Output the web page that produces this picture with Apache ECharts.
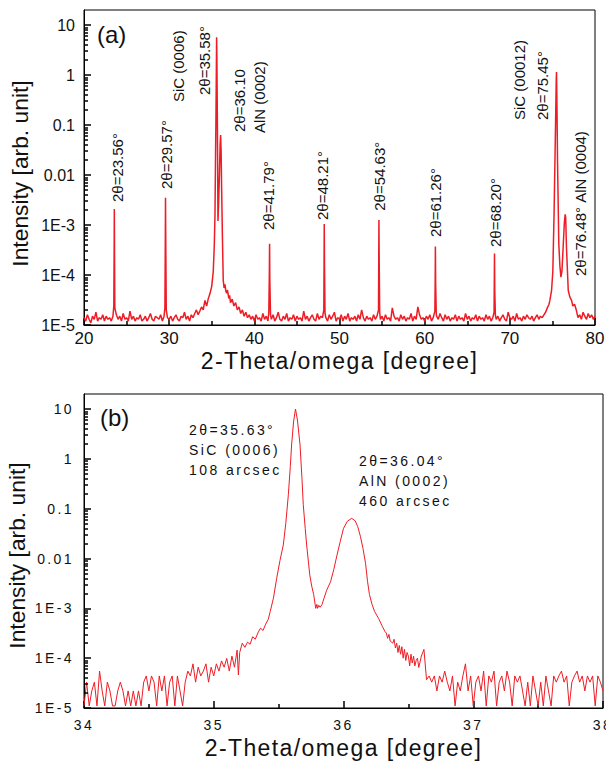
<!DOCTYPE html>
<html>
<head>
<meta charset="utf-8">
<script src="https://cdn.jsdelivr.net/npm/echarts@6/dist/echarts.min.js"></script>
<style>html,body{margin:0;padding:0;background:#fff}#chart{width:606px;height:764px}</style>
</head>
<body>
<div id="chart"></div>
<script>
// ---------- DATA ----------
// (a) wide 2-Theta/omega scan, 20-80 degree: [2theta, intensity]
const topScan = [
[20.0,1.4e-5],[20.2,1.2e-5],[20.4,1.6e-5],[20.6,1.3e-5],[20.8,1.1e-5],[21.0,1.5e-5],[21.2,1.3e-5],[21.4,1.8e-5],[21.6,1.2e-5],[21.8,1.4e-5],[22.0,1.3e-5],[22.2,1.6e-5],[22.4,1.2e-5],[22.6,1.5e-5],[22.8,1.3e-5],[23.0,1.4e-5],[23.2,1.2e-5],
[23.4,1.5e-5],[23.5,2.4e-5],[23.54,3e-4],[23.56,2.1e-3],[23.58,4e-4],[23.62,2.2e-5],[23.8,1.6e-5],
[24.0,1.3e-5],[24.2,1.5e-5],[24.4,1.2e-5],[24.6,1.7e-5],[24.8,1.3e-5],[25.0,1.4e-5],[25.2,1.2e-5],[25.4,1.9e-5],[25.6,1.3e-5],[25.8,1.5e-5],[26.0,1.2e-5],[26.2,1.4e-5],[26.4,1.3e-5],[26.6,1.6e-5],[26.8,1.2e-5],[27.0,1.3e-5],[27.2,1.5e-5],[27.4,1.2e-5],[27.6,1.4e-5],[27.8,1.7e-5],[28.0,1.3e-5],[28.2,1.2e-5],[28.4,1.5e-5],[28.6,1.4e-5],[28.8,1.3e-5],[29.0,1.6e-5],[29.2,1.2e-5],
[29.4,1.5e-5],[29.5,2.2e-5],[29.55,6e-4],[29.57,3.5e-3],[29.6,5e-4],[29.66,2e-5],[29.8,1.4e-5],
[30.0,1.3e-5],[30.2,1.5e-5],[30.4,1.2e-5],[30.6,1.4e-5],[30.8,1.6e-5],[31.0,1.3e-5],[31.2,1.2e-5],[31.4,1.5e-5],[31.6,1.4e-5],[31.8,1.8e-5],[32.0,1.3e-5],[32.2,1.5e-5],[32.4,1.2e-5],[32.6,1.6e-5],[32.8,1.4e-5],[33.0,1.7e-5],[33.2,2.0e-5],[33.4,1.6e-5],[33.6,1.9e-5],[33.8,2.3e-5],[34.0,2.0e-5],[34.2,3.1e-5],[34.4,2.4e-5],[34.6,3.4e-5],[34.8,4.3e-5],[35.0,6e-5],
[35.18,1.2e-4],[35.3,4e-4],[35.38,1.6e-3],[35.45,0.03],[35.49,0.117],[35.54,1.2],[35.57,5.7],[35.6,2.5],[35.65,0.2],[35.7,0.01],[35.73,1.2e-3],[35.8,2.5e-3],[35.9,0.01],[35.98,0.04],[36.04,0.063],[36.1,0.03],[36.16,5.5e-3],[36.25,6e-4],[36.35,7.8e-5],
[36.45,5.5e-5],[36.55,6.5e-5],[36.65,4.8e-5],[36.75,4.3e-5],[36.85,5e-5],[37.0,3.4e-5],[37.1,3.9e-5],[37.2,2.8e-5],[37.4,3.3e-5],[37.6,2.4e-5],[37.8,2.8e-5],[38.0,2.0e-5],[38.2,2.3e-5],[38.4,1.7e-5],[38.6,2.0e-5],[38.8,1.5e-5],[39.0,1.8e-5],[39.2,1.4e-5],[39.4,1.6e-5],
[39.6,1.3e-5],[39.8,1.5e-5],[40.0,1.2e-5],[40.2,1.6e-5],[40.4,1.3e-5],[40.6,1.4e-5],[40.8,1.2e-5],[41.0,1.7e-5],[41.2,1.3e-5],[41.4,1.5e-5],[41.6,1.2e-5],
[41.7,1.8e-5],[41.76,1e-4],[41.79,4.2e-4],[41.82,8e-5],[41.9,1.6e-5],
[42.0,1.3e-5],[42.2,1.6e-5],[42.4,1.2e-5],[42.6,1.4e-5],[42.8,1.8e-5],[43.0,1.3e-5],[43.2,1.2e-5],[43.4,1.5e-5],[43.6,1.3e-5],[43.8,1.7e-5],[44.0,1.2e-5],[44.2,1.4e-5],[44.4,1.3e-5],[44.6,1.6e-5],[44.8,1.2e-5],[45.0,1.5e-5],[45.2,1.3e-5],[45.4,1.4e-5],[45.6,1.2e-5],[45.8,1.9e-5],[46.0,1.3e-5],[46.2,1.5e-5],[46.4,1.2e-5],[46.6,1.4e-5],[46.8,1.6e-5],[47.0,1.3e-5],[47.2,1.2e-5],[47.4,1.7e-5],[47.6,1.3e-5],[47.8,1.5e-5],[48.0,1.4e-5],
[48.16,2e-5],[48.19,2e-4],[48.21,1.05e-3],[48.24,1.5e-4],[48.3,1.7e-5],
[48.4,1.4e-5],[48.6,1.2e-5],[48.8,1.6e-5],[49.0,1.3e-5],[49.2,1.5e-5],[49.4,1.8e-5],[49.6,1.2e-5],[49.8,1.4e-5],[50.0,1.3e-5],[50.2,1.6e-5],[50.4,1.2e-5],[50.6,1.5e-5],[50.8,1.3e-5],[51.0,1.7e-5],[51.2,1.2e-5],[51.4,1.4e-5],[51.6,1.3e-5],[51.8,1.5e-5],[52.0,1.2e-5],[52.2,1.6e-5],[52.4,1.3e-5],[52.6,2.0e-5],[52.8,1.4e-5],[53.0,1.2e-5],[53.2,1.5e-5],[53.4,1.3e-5],[53.6,1.4e-5],[53.8,1.2e-5],[54.0,1.6e-5],[54.2,1.3e-5],[54.4,1.5e-5],
[54.58,2e-5],[54.61,2.5e-4],[54.63,1.26e-3],[54.66,2e-4],[54.72,1.8e-5],
[54.8,1.3e-5],[55.0,1.5e-5],[55.2,1.2e-5],[55.4,1.6e-5],[55.6,1.3e-5],[55.8,1.4e-5],[56.0,1.2e-5],[56.2,2.2e-5],[56.4,1.5e-5],[56.6,1.3e-5],[56.8,1.4e-5],[57.0,1.2e-5],[57.2,1.6e-5],[57.4,1.3e-5],[57.6,1.5e-5],[57.8,1.2e-5],[58.0,1.4e-5],[58.2,1.3e-5],[58.4,1.7e-5],[58.6,1.2e-5],[58.8,1.5e-5],[59.0,1.3e-5],[59.2,2.3e-5],[59.4,1.6e-5],[59.6,1.3e-5],[59.8,1.4e-5],[60.0,1.2e-5],[60.2,1.5e-5],[60.4,1.3e-5],[60.6,1.6e-5],[60.8,1.2e-5],[61.0,1.4e-5],
[61.2,1.9e-5],[61.24,1e-4],[61.26,3.7e-4],[61.29,7e-5],[61.36,1.7e-5],
[61.4,1.5e-5],[61.6,1.3e-5],[61.8,1.7e-5],[62.0,1.4e-5],[62.2,1.2e-5],[62.4,1.6e-5],[62.6,1.3e-5],[62.8,1.5e-5],[63.0,1.2e-5],[63.2,1.4e-5],[63.4,1.3e-5],[63.6,1.6e-5],[63.8,1.2e-5],[64.0,1.5e-5],[64.2,1.3e-5],[64.4,1.4e-5],[64.6,1.2e-5],[64.8,1.7e-5],[65.0,1.3e-5],[65.2,1.5e-5],[65.4,1.2e-5],[65.6,1.4e-5],[65.8,1.3e-5],[66.0,1.6e-5],[66.2,1.2e-5],[66.4,1.5e-5],[66.6,1.3e-5],[66.8,1.4e-5],[67.0,1.2e-5],[67.2,1.6e-5],[67.4,1.3e-5],[67.6,1.5e-5],[67.8,1.2e-5],[68.0,1.4e-5],
[68.15,1.8e-5],[68.18,9e-5],[68.2,2.7e-4],[68.23,5e-5],[68.3,1.6e-5],
[68.4,1.3e-5],[68.6,1.5e-5],[68.8,1.2e-5],[69.0,1.4e-5],[69.2,1.6e-5],[69.4,1.3e-5],[69.6,1.2e-5],[69.8,1.8e-5],[70.0,1.4e-5],[70.2,1.3e-5],[70.4,1.5e-5],[70.6,1.2e-5],[70.8,1.7e-5],[71.0,1.3e-5],[71.2,1.4e-5],[71.4,1.2e-5],[71.6,1.5e-5],[71.8,1.3e-5],[72.0,1.6e-5],[72.2,1.4e-5],[72.4,1.3e-5],[72.6,1.5e-5],[72.8,1.2e-5],[73.0,1.4e-5],[73.2,1.6e-5],[73.4,1.3e-5],[73.6,1.5e-5],[73.8,1.4e-5],[74.0,1.6e-5],
[74.2,1.8e-5],[74.4,2.2e-5],[74.6,2.6e-5],[74.7,3.1e-5],[74.9,4.9e-5],[75.05,1.2e-4],[75.2,1.9e-3],[75.36,0.086],[75.45,0.8],[75.48,1.15],[75.52,0.4],[75.6,0.019],[75.75,4.2e-4],[75.88,1.5e-4],[76.0,9.1e-5],[76.12,1.2e-4],[76.26,3.6e-4],[76.4,1.1e-3],[76.5,1.64e-3],[76.56,1.4e-3],[76.65,3.6e-4],[76.86,4.9e-5],[77.05,3.6e-5],[77.25,3.1e-5],[77.4,2.4e-5],[77.6,2.6e-5],[77.8,2.0e-5],
[78.0,1.4e-5],[78.2,1.6e-5],[78.4,1.3e-5],[78.6,1.8e-5],[78.8,1.5e-5],[79.0,1.3e-5],[79.2,1.7e-5],[79.4,1.4e-5],[79.6,1.6e-5],[79.8,1.3e-5],[80.0,1.5e-5]
];

// (b) fine scan, 34-38 degree: [2theta, intensity]
const bottomScan = [
[34.00,1.1e-5],[34.02,3.3e-5],[34.04,1.1e-5],[34.06,2.2e-5],[34.08,3.3e-5],[34.10,1.1e-5],[34.12,5.5e-5],[34.14,2.2e-5],[34.16,1.1e-5],[34.18,3.3e-5],[34.20,2.2e-5],[34.22,1.1e-5],[34.24,1.1e-5],[34.26,2.2e-5],[34.28,3.3e-5],[34.30,2.2e-5],[34.32,1.1e-5],[34.34,2.2e-5],[34.36,1.1e-5],[34.38,2.2e-5],[34.40,1.1e-5],[34.42,2.2e-5],[34.44,1.1e-5],[34.46,3.3e-5],[34.48,4.4e-5],[34.50,2.2e-5],[34.52,4.4e-5],[34.54,3.3e-5],[34.56,1.1e-5],[34.58,4.4e-5],[34.60,2.2e-5],[34.62,4.4e-5],[34.64,1.1e-5],[34.66,3.3e-5],[34.68,4.4e-5],[34.70,1.1e-5],[34.72,4.4e-5],[34.74,2.2e-5],[34.76,1.1e-5],[34.78,3.3e-5],[34.80,5.5e-5],
[34.82,4.4e-5],[34.84,7.7e-5],[34.86,3.3e-5],[34.88,6.6e-5],[34.90,4.4e-5],[34.92,5.5e-5],[34.94,7.7e-5],[34.96,3.3e-5],[34.98,6.6e-5],[35.00,4.4e-5],[35.02,7.7e-5],[35.04,5.5e-5],[35.06,8.8e-5],[35.08,6.6e-5],[35.10,9.9e-5],[35.12,5.5e-5],[35.14,1.1e-4],[35.16,6.6e-5],[35.18,1.45e-4],[35.19,4.6e-5],
[35.20,1.3e-4],[35.22,2e-4],[35.24,1.65e-4],[35.26,2.1e-4],[35.28,1.9e-4],[35.30,2.7e-4],[35.32,2.4e-4],[35.34,3.2e-4],[35.36,4e-4],[35.38,3.6e-4],[35.40,4.8e-4],[35.42,6e-4],[35.435,8.6e-4],[35.46,1.6e-3],[35.485,4e-3],[35.51,9e-3],[35.536,0.0187],[35.555,0.05],[35.575,0.19],[35.59,0.7],[35.6,1.9],[35.615,5.5],[35.63,10],[35.645,6],[35.665,1.9],[35.68,0.4],[35.69,0.12],[35.705,0.04],[35.716,0.0187],[35.74,4.7e-3],[35.755,2.8e-3],[35.77,1.9e-3],[35.786,1e-3],[35.795,1.2e-3],[35.80,1.0e-3],[35.81,1.15e-3],[35.82,1.05e-3],[35.835,1.2e-3],[35.85,1.6e-3],[35.87,2.3e-3],[35.9,3.4e-3],[35.925,6e-3],[35.95,0.0117],[35.975,0.022],[36.0,0.0403],[36.03,0.056],[36.063,0.064],[36.09,0.057],[36.11,0.0434],[36.13,0.028],[36.15,0.016],[36.17,8e-3],[36.185,3.5e-3],[36.2,1.9e-3],[36.22,1.2e-3],[36.24,8.6e-4],[36.27,6.3e-4],[36.3,4.3e-4],[36.32,3.4e-4],[36.33,3.2e-4],[36.34,2.5e-4],[36.35,3e-4],[36.36,2.2e-4],[36.38,2e-4],[36.39,2.4e-4],[36.40,1.6e-4],[36.41,2e-4],[36.42,1.3e-4],[36.43,1.8e-4],[36.44,1.2e-4],[36.45,1.7e-4],[36.46,1e-4],[36.47,1.5e-4],[36.48,9e-5],[36.49,1.3e-4],[36.50,1.1e-4],[36.51,7e-5],[36.52,1.2e-4],[36.53,8e-5],[36.54,1.1e-4],[36.55,7e-5],[36.56,9e-5],[36.57,1e-4],[36.58,6.5e-5],[36.60,1.1e-4],[36.62,1.5e-4],[36.64,3.7e-5],
[36.66,4.4e-5],[36.68,3.3e-5],[36.70,4.4e-5],[36.72,2.2e-5],[36.74,4.4e-5],[36.76,3.3e-5],[36.78,5.5e-5],[36.80,3.3e-5],[36.82,2.2e-5],[36.84,4.4e-5],[36.86,1.1e-5],[36.88,3.3e-5],[36.90,2.2e-5],[36.92,4.4e-5],[36.94,7.7e-5],[36.96,2.2e-5],[36.98,4.4e-5],[37.00,1.1e-5],[37.02,3.3e-5],[37.04,4.4e-5],[37.06,2.2e-5],[37.08,5.5e-5],[37.10,1.1e-5],[37.12,4.4e-5],[37.14,3.3e-5],[37.16,5.5e-5],[37.18,1.1e-5],[37.20,3.3e-5],[37.22,4.4e-5],[37.24,2.2e-5],[37.26,5.5e-5],[37.28,3.3e-5],[37.30,1.1e-5],[37.32,4.4e-5],[37.34,3.3e-5],[37.36,4.4e-5],[37.38,2.2e-5],[37.40,1.1e-5],[37.42,3.3e-5],[37.44,1.1e-5],[37.46,4.4e-5],[37.48,2.2e-5],[37.50,1.1e-5],[37.52,3.3e-5],[37.54,1.1e-5],[37.56,4.4e-5],[37.58,2.2e-5],[37.60,1.1e-5],[37.62,4.4e-5],[37.64,3.3e-5],[37.66,4.4e-5],[37.68,5.5e-5],[37.70,3.3e-5],[37.72,4.4e-5],[37.74,1.1e-5],[37.76,3.3e-5],[37.78,4.4e-5],[37.80,5.5e-5],[37.82,3.3e-5],[37.84,4.4e-5],[37.86,2.2e-5],[37.88,4.4e-5],[37.90,3.3e-5],[37.92,4.4e-5],[37.94,1.1e-5],[37.96,4.4e-5],[37.98,3.3e-5],[38.00,2.2e-5]
];

// tick labels
const yTickLabels = ['1E-5', '1E-4', '1E-3', '0.01', '0.1', '1', '10'];
const yDecades = [1e-5, 1e-4, 1e-3, 0.01, 0.1, 1, 10];
const yMinorMultipliers = [2, 3, 4, 5, 6, 7, 8, 9];

// peak annotations of (a): text, anchor (start of the rotated text) in data coords
const topLabelText = ['2θ=23.56°', '2θ=29.57°', 'SiC (0006)', '2θ=35.58°', '2θ=36.10', 'AlN (0002)', '2θ=41.79°', '2θ=48.21°', '2θ=54.63°', '2θ=61.26°', '2θ=68.20°', 'SiC (00012)', '2θ=75.45°', '2θ=76.48° AlN (0004)'];
const topLabelX = [23.93, 29.63, 31.15, 34.15, 38.2, 40.6, 41.66, 48.06, 54.75, 61.33, 68.31, 71.13, 73.89, 78.24];
const topLabelY = [2.88e-3, 5.25e-3, 0.288, 0.398, 0.0724, 0.0692, 7.94e-4, 1.26e-3, 1.93e-3, 5.75e-4, 3.63e-4, 0.126, 0.126, 9.55e-5];

// peak annotations of (b)
const bottomLabelText = ['2θ=35.63°\nSiC (0006)\n108 arcsec', '2θ=36.04°\nAlN (0002)\n460 arcsec'];
const bottomLabelX = [34.81, 36.12];
const bottomLabelY = [5.9, 1.44];

// ---------- STYLE HELPERS ----------
const FONT = '"Liberation Sans", Arial, sans-serif';
const AXIS = '#000';
const TEXT = '#111';
const RED = '#ee1c25';
// letter spacing (px) applied to SVG text of a given font size
const LETTER_SPACING = { '14px': 2.4, '23px': 1.4 };

const yMinorTicks = [];
yDecades.forEach(d => yMinorMultipliers.forEach(m => { if (m * d < 20) yMinorTicks.push(m * d); }));

function xAxisCfg(gi, min, max, interval, labelSize, margin, nameGap) {
  return {
    gridIndex: gi, type: 'value', min: min, max: max, interval: interval,
    name: '2-Theta/omega [degree]', nameLocation: 'middle', nameGap: nameGap, nameMoveOverlap: false,
    nameTextStyle: { fontSize: 23, fontFamily: FONT, color: TEXT },
    axisLine: { show: true, lineStyle: { color: AXIS, width: 1 } },
    axisTick: { show: true, inside: true, length: 7, lineStyle: { color: AXIS, width: 1.5 } },
    minorTick: { show: true, splitNumber: 2, length: 4, lineStyle: { color: AXIS, width: 1.5 } },
    splitLine: { show: false },
    axisLabel: { fontSize: labelSize, fontFamily: FONT, color: TEXT, margin: margin }
  };
}
function yAxisCfg(gi, labelSize, margin, nameGap, pad) {
  return {
    gridIndex: gi, type: 'log', min: 1e-5, max: 20, splitNumber: 7,
    name: 'Intensity [arb. unit]', nameLocation: 'middle', nameGap: nameGap, nameMoveOverlap: false,
    nameTextStyle: { fontSize: 22.8, fontFamily: FONT, color: TEXT, padding: [0, pad, 0, 0] },
    axisLine: { show: true, lineStyle: { color: AXIS, width: 1 } },
    axisTick: { show: true, inside: true, length: 7, lineStyle: { color: AXIS, width: 1.5 } },
    splitLine: { show: false },
    axisLabel: {
      fontSize: labelSize, fontFamily: FONT, color: TEXT, margin: margin, showMaxLabel: false,
      formatter: v => { const i = Math.round(Math.log10(v)) + 5; return yTickLabels[i] || ''; }
    }
  };
}
// logarithmic minor ticks on the y axis, drawn as short marklines starting at the axis
function minorTickMarks(xMin, tickLen) {
  return {
    silent: true, symbol: ['none', 'none'],
    label: { show: false },
    lineStyle: { color: AXIS, width: 1.5, type: 'solid' },
    data: yMinorTicks.map(v => [{ coord: [xMin, v] }, { coord: [xMin + tickLen, v] }])
  };
}

const chart = echarts.init(document.getElementById('chart'), null, { renderer: 'svg' });
function applyLetterSpacing() {
  document.querySelectorAll('#chart svg text').forEach(el => {
    const fs = window.getComputedStyle(el).fontSize;
    const sp = LETTER_SPACING[fs];
    if (sp) el.setAttribute('letter-spacing', sp);
  });
}
chart.on('finished', applyLetterSpacing);
chart.setOption({
  animation: false,
  backgroundColor: '#fff',
  grid: [
    { left: 84, right: 11, top: 10, height: 315, show: true, borderColor: AXIS, borderWidth: 1, backgroundColor: 'transparent', outerBoundsMode: 'none' },
    { left: 84, right: 3, top: 394, height: 314, show: true, borderColor: AXIS, borderWidth: 1, backgroundColor: 'transparent', outerBoundsMode: 'none' }
  ],
  xAxis: [xAxisCfg(0, 20, 80, 10, 17, 5, 24), xAxisCfg(1, 34, 38, 1, 14, 10, 28)],
  yAxis: [yAxisCfg(0, 16, 9, 53, 12), yAxisCfg(1, 14, 10, 56, 9)],
  graphic: [
    { type: 'text', left: 97, top: 22, style: { text: '(a)', fontSize: 24, fontFamily: FONT, fill: TEXT } },
    { type: 'text', left: 100, top: 405, style: { text: '(b)', fontSize: 24, fontFamily: FONT, fill: TEXT } }
  ],
  series: [
    { type: 'line', xAxisIndex: 0, yAxisIndex: 0, data: topScan, symbol: 'none', sampling: 'none',
      lineStyle: { color: RED, width: 1.5 }, z: 2, markLine: minorTickMarks(20, 0.47) },
    { type: 'line', xAxisIndex: 1, yAxisIndex: 1, data: bottomScan, symbol: 'none', sampling: 'none',
      lineStyle: { color: RED, width: 1 }, z: 2, markLine: minorTickMarks(34, 0.031) },
    {
      type: 'custom', xAxisIndex: 0, yAxisIndex: 0, silent: true, z: 6,
      data: topLabelX.map((x, i) => [x, topLabelY[i]]),
      renderItem: (params, api) => {
        const p = api.coord([api.value(0), api.value(1)]);
        return { type: 'text', x: p[0], y: p[1], rotation: Math.PI / 2,
          style: { text: topLabelText[params.dataIndex], fontSize: 15, fontFamily: FONT, fill: TEXT, align: 'left', verticalAlign: 'middle' } };
      }
    },
    {
      type: 'custom', xAxisIndex: 1, yAxisIndex: 1, silent: true, z: 6,
      data: bottomLabelX.map((x, i) => [x, bottomLabelY[i]]),
      renderItem: (params, api) => {
        const p = api.coord([api.value(0), api.value(1)]);
        return { type: 'text', x: p[0], y: p[1],
          style: { text: bottomLabelText[params.dataIndex], fontSize: 14, lineHeight: 20, fontFamily: FONT, fill: TEXT, align: 'left', verticalAlign: 'top' } };
      }
    }
  ]
});
chart.getZr().refreshImmediately();
applyLetterSpacing();
setTimeout(applyLetterSpacing, 50);
setTimeout(applyLetterSpacing, 300);
</script>
</body>
</html>
